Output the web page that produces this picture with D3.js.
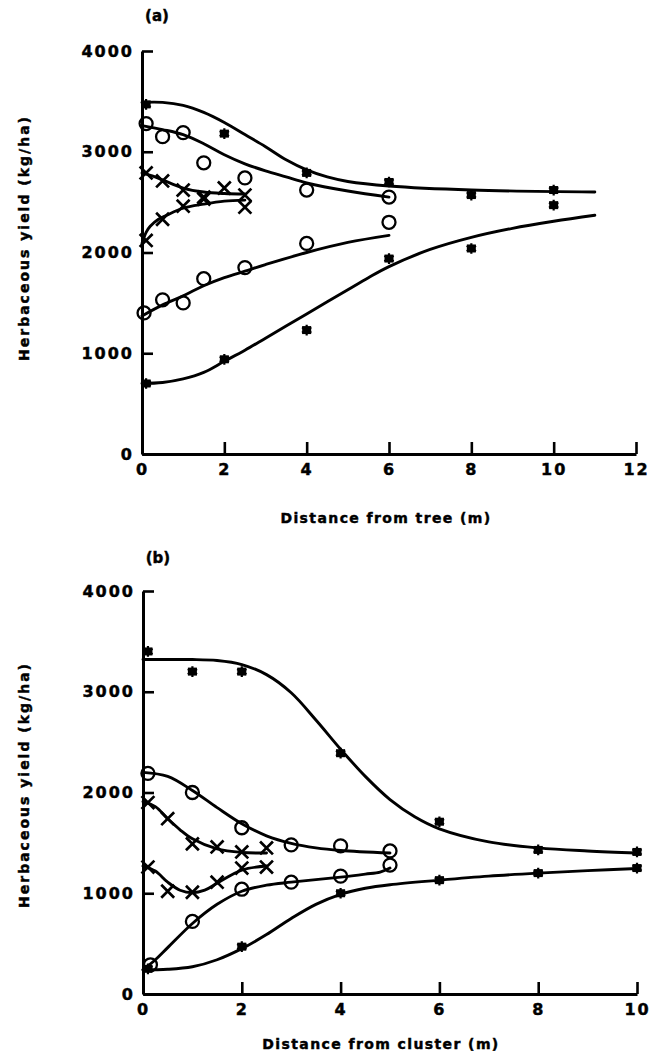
<!DOCTYPE html>
<html>
<head>
<meta charset="utf-8">
<script src="https://cdn.jsdelivr.net/npm/d3@7"></script>
<style>
  body { margin: 0; background: #fff; }
  svg text { font-family: "DejaVu Sans", sans-serif; font-weight: bold; fill: #000; stroke: #000; stroke-width: 0.45px; }
</style>
</head>
<body>
<svg id="chart" width="660" height="1058"></svg>
<script>
// ticks
var yTicks = [0, 1000, 2000, 3000, 4000]
var xTicksTree = [0, 2, 4, 6, 8, 10, 12]
var xTicksCluster = [0, 2, 4, 6, 8, 10]

// (a) distance from tree - observed points [m, kg/ha]
var treeStarHigh = [[0.1,3470],[2,3180],[4,2790],[6,2700],[8,2570],[10,2620]]
var treeStarLow = [[0.1,700],[2,940],[4,1230],[6,1940],[8,2040],[10,2470]]
var treeCircleHigh = [[0.1,3280],[0.5,3150],[1,3190],[1.5,2890],[2.5,2740],[4,2620],[6,2550]]
var treeCircleLow = [[0.05,1400],[0.5,1530],[1,1500],[1.5,1740],[2.5,1850],[4,2090],[6,2300]]
var treeCrossHigh = [[0.1,2790],[0.5,2710],[1,2620],[1.5,2550],[2,2640],[2.5,2570]]
var treeCrossLow = [[0.1,2120],[0.5,2330],[1,2460],[1.5,2530],[2.5,2450]]

// (a) fitted curves
var treeStarHighFit = [[0,3490],[0.5,3490],[1,3460],[1.5,3390],[2,3290],[2.5,3170],[3,3050],[3.5,2920],[4,2820],[4.5,2750],[5,2705],[6,2660],[8,2620],[11,2600]]
var treeStarLowFit = [[0,700],[0.5,710],[1,745],[1.5,810],[2,920],[2.5,1030],[3,1150],[3.5,1270],[4,1390],[4.5,1510],[5,1630],[5.5,1750],[6,1860],[7,2030],[8,2150],[9,2240],[10,2310],[11,2370]]
var treeCircleHighFit = [[0,3260],[0.5,3220],[1,3170],[1.5,3080],[2,2970],[2.5,2880],[3,2810],[3.5,2750],[4,2690],[5,2610],[6,2550]]
var treeCircleLowFit = [[0,1370],[0.5,1480],[1,1570],[1.5,1670],[2,1750],[2.5,1815],[3,1880],[4,2000],[5,2100],[6,2170]]
var treeCrossHighFit = [[0,2790],[0.25,2760],[0.5,2720],[1,2640],[1.5,2600],[2,2585],[2.5,2580]]
var treeCrossLowFit = [[0,2090],[0.1,2200],[0.2,2260],[0.4,2330],[0.6,2370],[1,2440],[1.5,2480],[2,2510],[2.5,2520]]

// (b) distance from cluster - observed points
var clusterStarHigh = [[0.1,3400],[1,3200],[2,3200],[4,2390],[6,1710],[8,1430],[10,1410]]
var clusterStarLow = [[0.1,250],[2,470],[4,1000],[6,1130],[8,1200],[10,1250]]
var clusterCircleHigh = [[0.1,2190],[1,2000],[2,1650],[3,1480],[4,1470],[5,1420]]
var clusterCircleLow = [[0.15,290],[1,720],[2,1040],[3,1110],[4,1170],[5,1280]]
var clusterCrossHigh = [[0.1,1900],[0.5,1740],[1,1490],[1.5,1460],[2,1410],[2.5,1450]]
var clusterCrossLow = [[0.1,1260],[0.5,1020],[1,1010],[1.5,1110],[2,1250],[2.5,1260]]

// (b) fitted curves
var clusterStarHighFit = [[0,3320],[0.5,3320],[1,3320],[1.5,3310],[2,3270],[2.5,3170],[3,2990],[3.5,2720],[4,2430],[4.5,2160],[5,1930],[5.5,1760],[6,1640],[7,1510],[8,1450],[9,1420],[10,1400]]
var clusterStarLowFit = [[0,240],[0.5,245],[1,270],[1.5,340],[2,450],[2.5,590],[3,750],[3.5,890],[4,990],[4.5,1050],[5,1085],[6,1130],[7,1170],[8,1200],[9,1225],[10,1245]]
var clusterCircleHighFit = [[0,2200],[0.5,2160],[1,2020],[1.5,1850],[2,1690],[2.5,1570],[3,1495],[3.5,1450],[4,1425],[5,1400]]
var clusterCircleLowFit = [[0,240],[0.25,340],[0.5,460],[1,700],[1.5,890],[2,1020],[2.5,1080],[3,1110],[4,1160],[4.5,1190],[4.8,1210],[5,1250]]
var clusterCrossHighFit = [[0,1910],[0.25,1860],[0.5,1740],[0.75,1630],[1,1540],[1.5,1440],[2,1405],[2.5,1400]]
var clusterCrossLowFit = [[0,1270],[0.25,1220],[0.5,1110],[0.75,1030],[1,1005],[1.25,1030],[1.5,1100],[2,1230],[2.5,1270]]

var svg = d3.select('#chart')

function drawPanel(opt){
    var x = d3.scaleLinear().domain(opt.xDomain).range(opt.xRange)
    var y = d3.scaleLinear().domain([0, 4000]).range(opt.yRange)
    var g = svg.append('g')

    // fitted curves
    var line = d3.line().x(d => x(d[0])).y(d => y(d[1])).curve(d3.curveCatmullRom.alpha(0.5))
    opt.fits.forEach(function(f){
        g.append('path').attr('d', line(f))
          .attr('fill', 'none').attr('stroke', 'black').attr('stroke-width', 2.9)
          .attr('stroke-linecap', 'round')
    })

    // markers
    opt.stars.forEach(function(s){
        var m = g.selectAll(null).data(s).enter().append('g')
          .attr('transform', d => 'translate(' + x(d[0]) + ',' + y(d[1]) + ')')
        m.append('rect').attr('x', -4.5).attr('y', -4).attr('width', 9).attr('height', 8).attr('fill', 'black')
        m.append('path').attr('d', d3.symbol(d3.symbolAsterisk).size(80))
          .attr('fill', 'none').attr('stroke', 'black').attr('stroke-width', 2.2)
    })
    opt.circles.forEach(function(s){
        g.selectAll(null).data(s).enter().append('circle')
          .attr('cx', d => x(d[0])).attr('cy', d => y(d[1])).attr('r', 6.5)
          .attr('fill', 'none').attr('stroke', 'black').attr('stroke-width', 2.3)
    })
    opt.crosses.forEach(function(s){
        g.selectAll(null).data(s).enter().append('path')
          .attr('transform', d => 'translate(' + x(d[0]) + ',' + y(d[1]) + ')')
          .attr('d', d3.symbol(d3.symbolTimes).size(110))
          .attr('fill', 'none').attr('stroke', 'black').attr('stroke-width', 2.7)
    })

    // axes, ticks inside
    var yAxis = d3.axisLeft(y).tickValues(yTicks).tickFormat(d3.format('d'))
      .tickSizeInner(-11).tickSizeOuter(0).tickPadding(8)
    var xAxis = d3.axisBottom(x).tickValues(opt.xTicks).tickFormat(d3.format('d'))
      .tickSizeInner(-12).tickSizeOuter(0).tickPadding(9)

    var ya = g.append('g').attr('transform', 'translate(' + opt.xRange[0] + ',0)').call(yAxis)
    var xa = g.append('g').attr('transform', 'translate(0,' + opt.yRange[0] + ')').call(xAxis)
    ;[ya, xa].forEach(function(a){
        a.select('.domain').attr('stroke-width', 3)
        a.selectAll('.tick line').attr('stroke-width', 2.6)
        a.selectAll('.tick text').attr('font-size', 16).attr('letter-spacing', 2)
          .attr('font-family', '"DejaVu Sans", sans-serif').attr('font-weight', 'bold')
    })
    xa.selectAll('.tick text').attr('dy', '0.72em')

    // titles
    svg.append('text').attr('x', opt.xRange[0] + 15).attr('y', opt.panelY)
      .attr('text-anchor', 'middle').attr('font-size', 15).text(opt.panel)
    svg.append('text').attr('x', opt.xTitleX).attr('y', opt.xTitleY)
      .attr('text-anchor', 'middle').attr('font-size', 14).attr('letter-spacing', 1.4)
      .text(opt.xTitle)
    svg.append('text').attr('transform', 'translate(29,' + opt.yTitleY + ') rotate(-90)')
      .attr('text-anchor', 'middle').attr('font-size', 14).attr('letter-spacing', 2)
      .text('Herbaceous yield (kg/ha)')
}

drawPanel({
    panel: '(a)', panelY: 21,
    xDomain: [0, 12], xRange: [142, 636], yRange: [454, 51], xTicks: xTicksTree,
    xTitle: 'Distance from tree (m)', xTitleX: 386, xTitleY: 523, yTitleY: 238,
    fits: [treeStarHighFit, treeStarLowFit, treeCircleHighFit, treeCircleLowFit, treeCrossHighFit, treeCrossLowFit],
    stars: [treeStarHigh, treeStarLow],
    circles: [treeCircleHigh, treeCircleLow],
    crosses: [treeCrossHigh, treeCrossLow]
})

drawPanel({
    panel: '(b)', panelY: 563,
    xDomain: [0, 10], xRange: [143, 637], yRange: [994, 591], xTicks: xTicksCluster,
    xTitle: 'Distance from cluster (m)', xTitleX: 381, xTitleY: 1049, yTitleY: 785,
    fits: [clusterStarHighFit, clusterStarLowFit, clusterCircleHighFit, clusterCircleLowFit, clusterCrossHighFit, clusterCrossLowFit],
    stars: [clusterStarHigh, clusterStarLow],
    circles: [clusterCircleHigh, clusterCircleLow],
    crosses: [clusterCrossHigh, clusterCrossLow]
})
</script>
</body>
</html>
